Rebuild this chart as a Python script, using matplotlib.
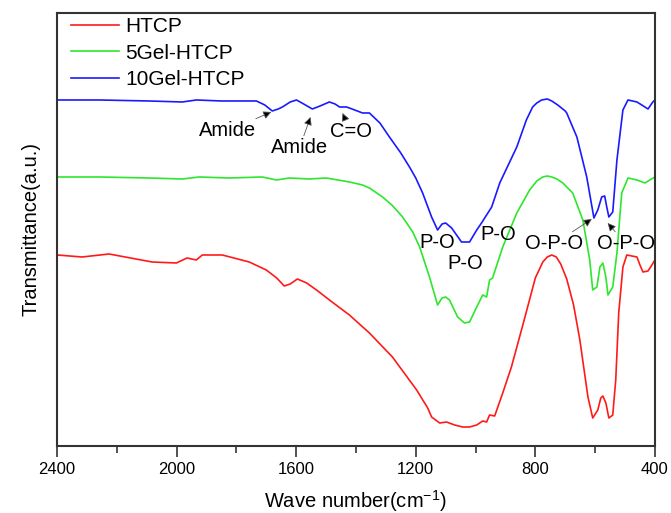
import matplotlib.pyplot as plt

plt.rcParams['font.family'] = ['Liberation Sans', 'DejaVu Sans']
plt.rcParams['mathtext.default'] = 'regular'

# FTIR spectra, wave number (cm-1) vs transmittance (a.u., offset)
wn_htcp = [2400, 2316, 2226, 2082, 2001, 1965, 1934, 1914, 1847, 1757, 1700, 1665, 1640,
           1620, 1596, 1565, 1532, 1480, 1422, 1355, 1278, 1197, 1160, 1147, 1120, 1097,
           1070, 1043, 1020, 996, 976, 963, 953, 936, 909, 880, 840, 800, 775, 760,
           745, 730, 715, 695, 672, 651, 624, 608, 591, 581, 574, 564, 554, 541,
           531, 521, 507, 494, 460, 450, 440, 423, 410, 400]
t_htcp = [205, 203, 206, 198, 197, 202, 200, 205, 205, 198, 190, 182, 174,
          176, 181, 177, 170, 158, 145, 127, 103, 70, 52, 43, 37, 38,
          35, 33, 33, 35, 39, 38, 45, 44, 67, 93, 137, 182, 198, 203,
          205, 203, 196, 181, 155, 120, 63, 42, 50, 62, 64, 57, 42, 45,
          80, 147, 193, 205, 203, 195, 188, 189, 195, 200]

wn_5gel = [2400, 2259, 2092, 1981, 1924, 1824, 1713, 1666, 1623, 1556, 1499, 1422,
           1378, 1355, 1311, 1280, 1244, 1210, 1187, 1154, 1127, 1112, 1100, 1087, 1060,
           1037, 1020, 996, 976, 963, 953, 943, 909, 862, 819, 795, 775, 760, 745, 728,
           708, 675, 641, 618, 608, 594, 584, 574, 564, 557, 541, 527, 511, 490, 460,
           433, 417, 400]
t_5gel = [283, 283, 282, 281, 283, 282, 283, 280, 282, 281, 282, 278,
          275, 272, 263, 255, 243, 228, 213, 183, 155, 162, 163, 160, 143,
          137, 138, 153, 165, 163, 180, 182, 213, 247, 270, 279, 283, 284, 283, 281,
          277, 267, 240, 200, 170, 173, 193, 197, 183, 165, 173, 207, 267, 282, 280,
          277, 280, 283]

wn_10gel = [2400, 2259, 2092, 1981, 1934, 1850, 1733, 1705, 1680, 1660, 1646, 1620,
            1599, 1575, 1546, 1520, 1489, 1470, 1455, 1432, 1422, 1378, 1355, 1320,
            1288, 1250, 1221, 1200, 1177, 1147, 1127, 1112, 1100, 1080, 1047, 1020,
            996, 980, 963, 946, 919, 862, 830, 809, 795, 779, 760, 745, 725, 700,
            695, 661, 628, 604, 591, 578, 568, 561, 554, 541, 527, 507, 490, 460,
            444, 423, 407, 400]
t_10gel = [360, 360, 359, 358, 360, 359, 359, 355, 349, 351, 353, 358,
           360, 356, 351, 354, 358, 356, 353, 353, 352, 347, 347, 337,
           323, 307, 293, 282, 267, 243, 230, 236, 237, 232, 218, 218,
           230, 237, 245, 253, 277, 313, 340, 353, 357, 360, 361, 359, 355, 349,
           347, 323, 283, 242, 250, 263, 264, 253, 243, 248, 300, 350, 360, 358,
           355, 351, 358, 360]

fig = plt.figure(figsize=(6.71, 5.13), dpi=100)
ax = fig.add_axes([0.085, 0.1306, 0.891, 0.8441])

ax.plot(wn_htcp, t_htcp, color='#ff1a1a', lw=1.2, label='HTCP')
ax.plot(wn_5gel, t_5gel, color='#2ee62e', lw=1.2, label='5Gel-HTCP')
ax.plot(wn_10gel, t_10gel, color='#1a1aff', lw=1.2, label='10Gel-HTCP')

ax.set_xlim(2400, 400)
ax.set_ylim(14, 447)
ax.set_xticks([2400, 2000, 1600, 1200, 800, 400])
ax.set_xticks([2200, 1800, 1400, 1000, 600], minor=True)
ax.set_yticks([])
ax.tick_params(axis='x', which='major', length=8, width=1.2, labelsize=12, color='#333333')
ax.tick_params(axis='x', which='minor', length=5, width=1.2, color='#333333')
for s in ax.spines.values():
    s.set_color('#333333')
    s.set_linewidth(1.5)

ax.set_xlabel('Wave number(cm$^{-1}$)', fontsize=14.5, labelpad=8)
ax.set_ylabel('Transmittance(a.u.)', fontsize=14.5, labelpad=12)

# peak labels
fs = 14.5
arrow = dict(arrowstyle='-|>', fc='black', ec='#555555', lw=0.6, mutation_scale=12,
             shrinkA=0, shrinkB=0)
ax.annotate('Amide', xy=(1683, 348), xytext=(1830, 329), fontsize=fs,
            ha='center', va='center', arrowprops=arrow)
ax.annotate('Amide', xy=(1552, 343), xytext=(1589, 312), fontsize=fs,
            ha='center', va='center', arrowprops=arrow)
ax.annotate('C=O', xy=(1445, 347), xytext=(1418, 328), fontsize=fs,
            ha='center', va='center', arrowprops=arrow)
ax.text(1127, 217, 'P-O', fontsize=fs, ha='center', va='center')
ax.text(1033, 196, 'P-O', fontsize=fs, ha='center', va='center')
ax.text(923, 225, 'P-O', fontsize=fs, ha='center', va='center')
ax.annotate('O-P-O', xy=(611, 241), xytext=(738, 216), fontsize=fs,
            ha='center', va='center', arrowprops=arrow)
ax.annotate('O-P-O', xy=(558, 237), xytext=(497, 216), fontsize=fs,
            ha='center', va='center', arrowprops=arrow)

ax.legend(loc='upper left', bbox_to_anchor=(0.02, 0.995), frameon=False, fontsize=15,
          handlelength=2.3, handletextpad=0.3, labelspacing=0.35, borderaxespad=0,
          borderpad=0.1)

fig.savefig('out.png', dpi=100)
